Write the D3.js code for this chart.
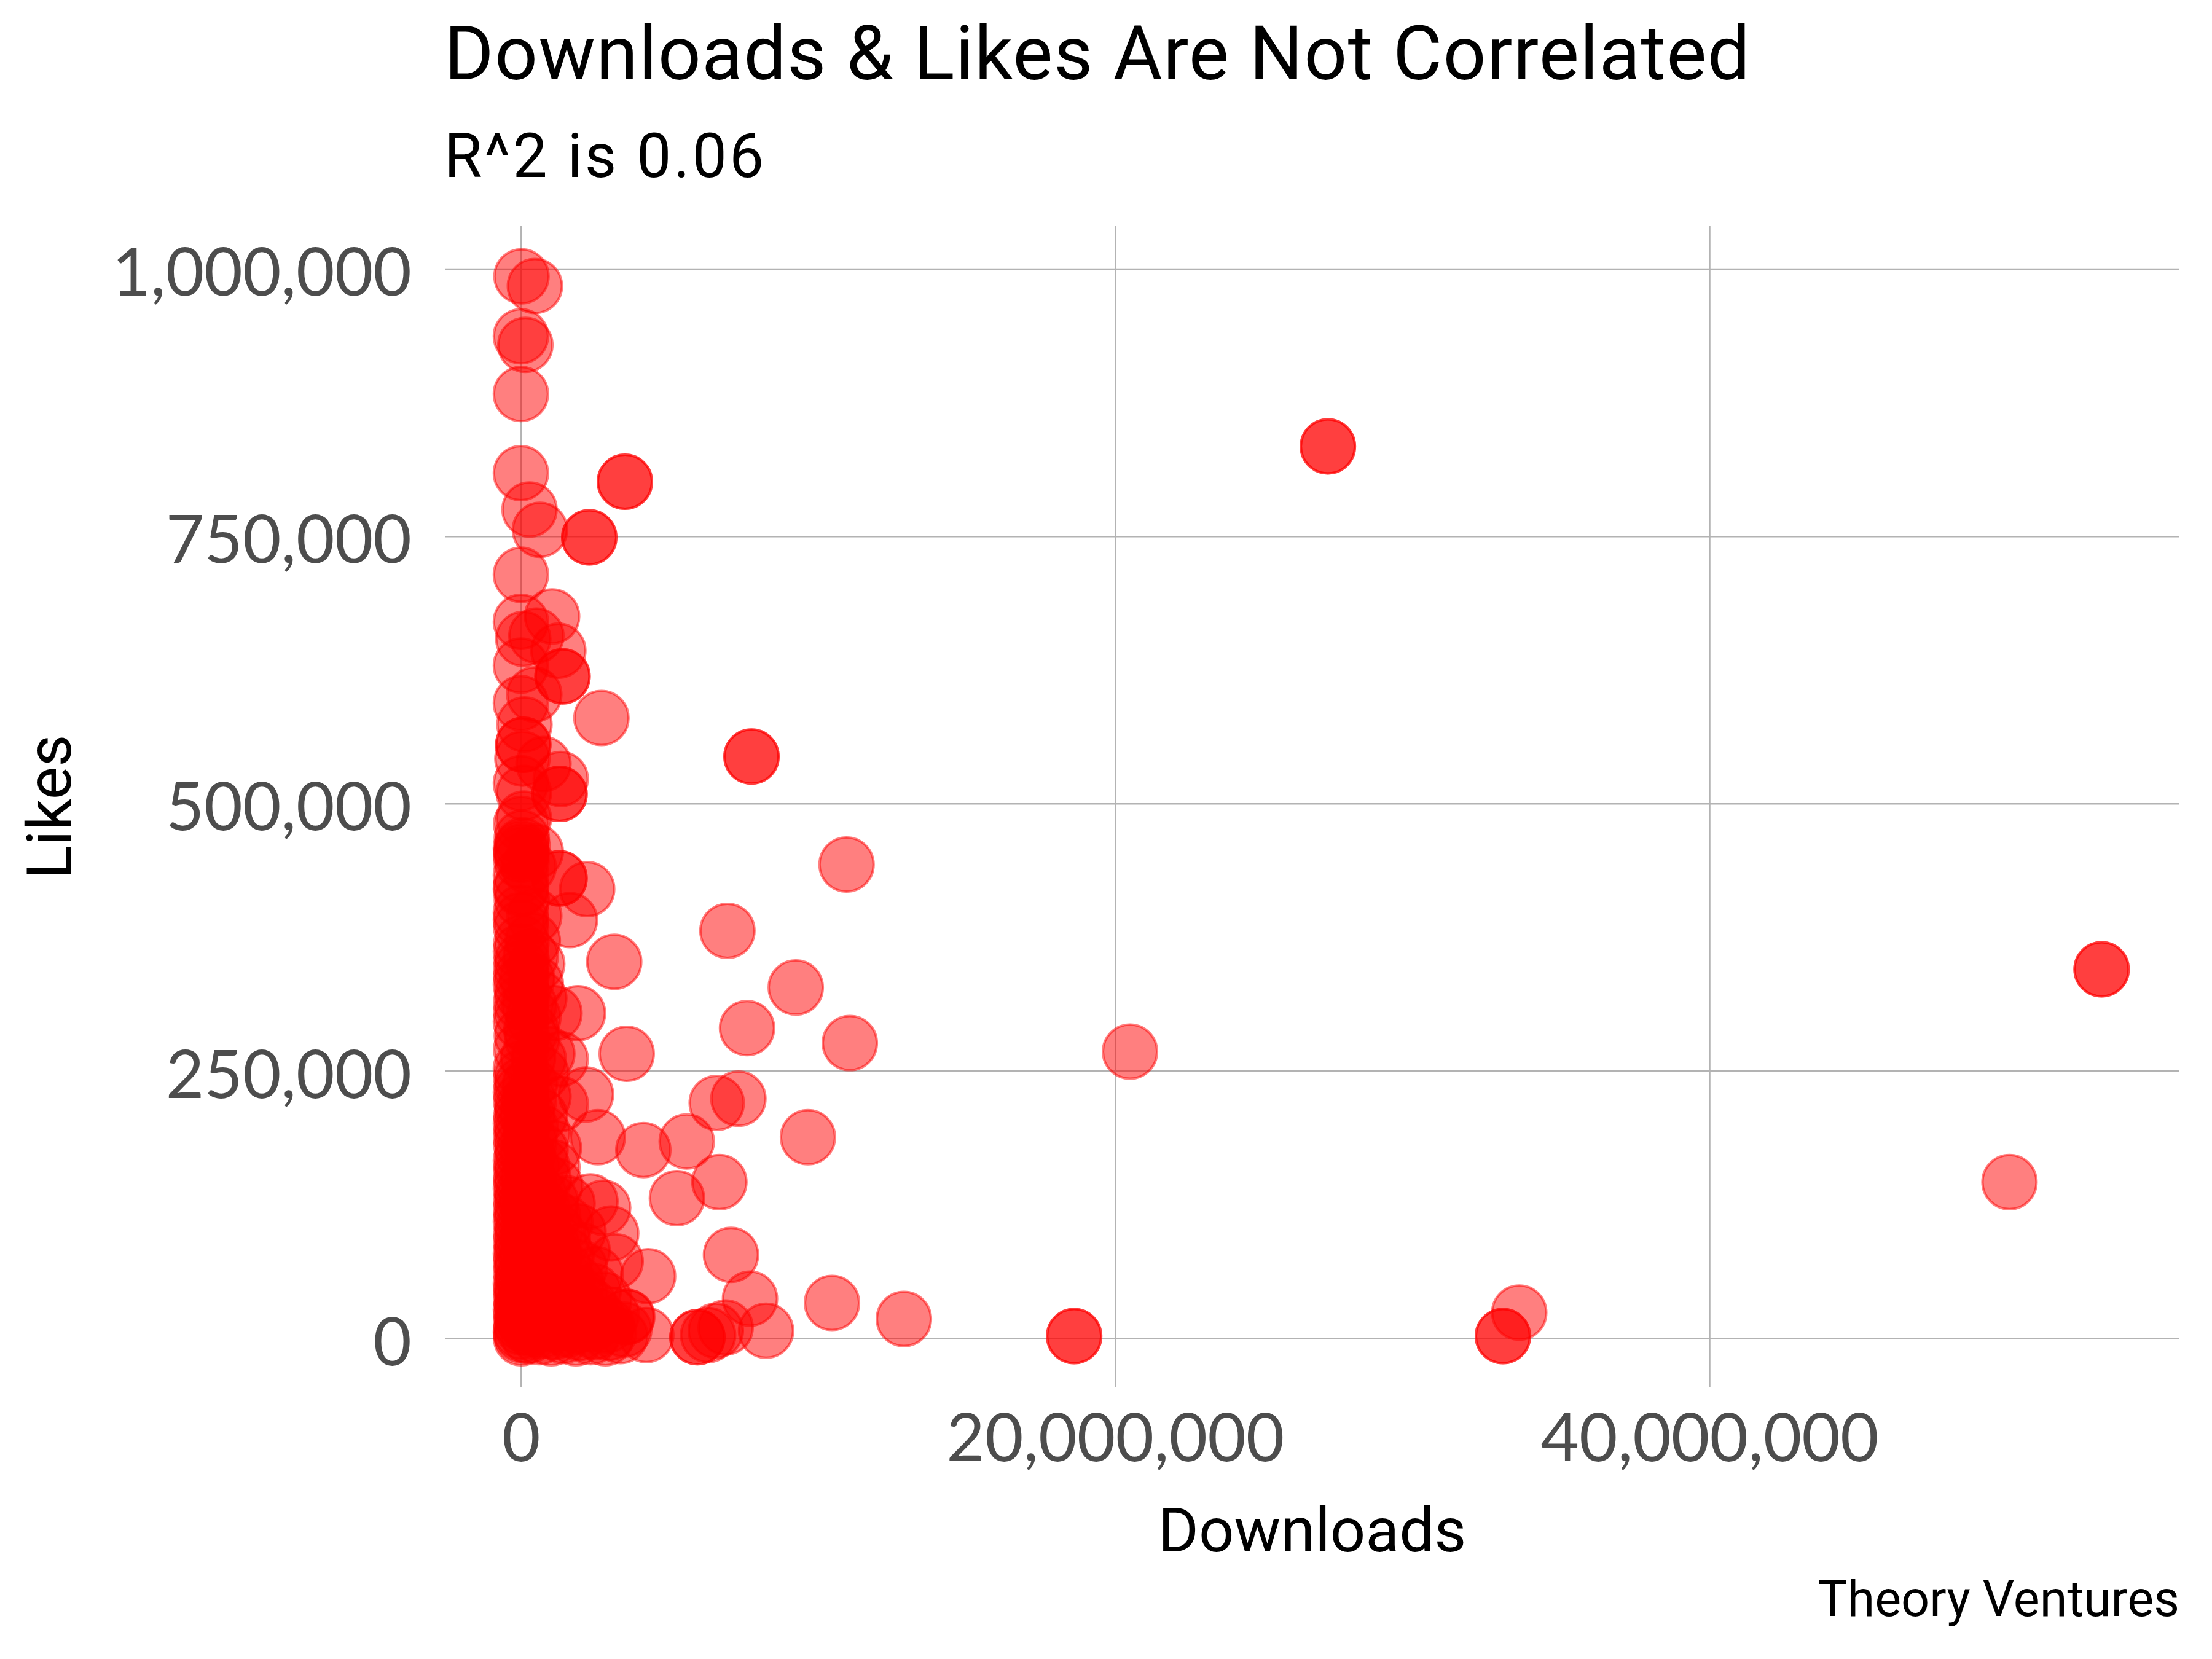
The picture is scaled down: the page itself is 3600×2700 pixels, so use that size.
<!DOCTYPE html>
<html>
<head>
<meta charset="utf-8">
<script src="https://cdn.jsdelivr.net/npm/d3@7"></script>
<style>
  body { margin: 0; background: #ffffff; }
</style>
</head>
<body>
<svg id="chart" width="3600" height="2700"></svg>
<script>
// ---- DATA (downloads in millions, likes in thousands) ----
const titleText = "Downloads & Likes Are Not Correlated";
const subtitleText = "R^2 is 0.06";
const xAxisTitle = "Downloads";
const yAxisTitle = "Likes";
const captionText = "Theory Ventures";
const xTicks = [0, 20000000, 40000000];
const yTicks = [0, 250000, 500000, 750000, 1000000];

// column of models with almost no downloads
const nearZeroColumn = [
  [0.01,0],[0.02,3],[0.00,6],[0.03,10],[0.01,14],[0.05,18],[0.02,22],[0.00,27],[0.04,31],[0.01,36],
  [0.03,41],[0.02,46],[0.00,51],[0.06,56],[0.01,62],[0.03,67],[0.02,73],[0.00,79],[0.04,85],[0.01,91],
  [0.02,97],[0.05,103],[0.00,109],[0.03,115],[0.01,121],[0.02,128],[0.04,134],[0.00,140],[0.02,147],[0.01,153],
  [0.03,160],[0.00,166],[0.05,173],[0.02,180],[0.01,187],[0.03,194],[0.00,201],[0.02,208],[0.04,215],[0.01,222],
  [0.00,230],[0.03,237],[0.02,244],[0.00,252],[0.01,270],[0.03,283],[0.00,296],[0.02,305],[0.01,314],[0.04,322],
  [0.00,331],[0.02,338],[0.01,346],[0.03,353],[0.00,362],[0.02,370],[0.01,384],[0.00,398],[0.03,410],[0.01,422],
  [0.00,433],[0.02,446],[0.01,452],[0.00,458],[0.03,468],[0.01,481]
];

// dense low-download / low-like cluster
const denseCluster = [
  [0.25,2],[0.31,9],[0.22,16],[0.36,24],[0.28,33],[0.19,42],[0.33,50],[0.26,59],[0.38,68],[0.21,77],
  [0.30,86],[0.24,96],[0.35,106],[0.27,117],[0.20,128],[0.32,139],[0.25,150],[0.37,161],[0.23,172],[0.29,184],
  [0.34,196],[0.22,209],[0.27,222],[0.31,238],[0.24,262],[0.35,288],[0.28,312],[0.21,336],[0.33,357],[0.26,441],
  [0.45,395],[0.40,372],[0.55,350],[0.42,300],[0.38,280],[0.50,455],
  [0.62,1],[0.71,7],[0.66,14],[0.78,22],[0.64,30],[0.74,39],[0.69,48],[0.80,57],[0.63,67],[0.75,77],
  [0.68,88],[0.79,99],[0.65,110],[0.72,122],[0.61,135],[0.77,148],[0.70,162],[0.66,176],[0.73,192],[0.64,208],
  [0.76,226],[0.69,247],[0.62,318],
  [1.02,0],[1.12,6],[1.05,13],[1.18,21],[1.08,29],[1.15,38],[1.00,47],[1.20,56],[1.07,66],[1.14,77],
  [1.03,89],[1.17,101],[1.09,114],[1.01,128],[1.16,143],[1.06,160],[1.11,178],
  [1.42,2],[1.55,8],[1.47,15],[1.60,23],[1.44,32],[1.52,42],[1.58,53],[1.46,65],[1.54,78],[1.41,92],
  [1.50,108],[1.57,126],
  [1.85,0],[1.97,5],[1.89,12],[2.05,20],[1.92,29],[2.01,40],[1.87,52],[1.99,66],[2.08,82],[1.94,100],
  [2.35,1],[2.48,6],[2.40,13],[2.56,21],[2.31,31],[2.45,44],[2.52,60],
  [2.85,0],[2.97,5],[2.90,12],[3.06,22],[2.81,36],
  [3.35,2],[3.48,8],[3.58,20]
];

// tall column of highly-liked models
const upperColumn = [
  [0.02,993],[0.47,984],[0.00,937],[0.15,929],[0.00,883],[0.00,809],[0.29,775],[0.64,756],
  [3.50,801],[3.50,801],[2.30,749],[2.30,749],[0.00,714],[1.05,675],[0.00,670],[0.08,654],[0.52,657],
  [1.26,643],[1.40,619],[1.40,619],[0.00,629],[0.45,602],[0.00,594],[2.71,580],[0.12,574],
  [0.08,555],[0.08,555],[0.05,542],[7.76,544],[7.76,544],[0.76,537],[1.34,523],[0.00,519],
  [0.10,510],[1.30,509],[1.30,509],[0.10,486]
];

const midScatter = [
  [0.02,455],[0.05,461],[1.30,430],[1.30,430],[2.23,420],[1.65,391],[0.00,420],[0.00,391],
  [0.50,332],[1.92,304],[1.13,304],[0.89,266],[0.60,261],[1.34,261],[3.14,352],[3.56,266],
  [6.95,381],[10.96,443],[9.25,328],[7.61,290],[11.07,276]
];

const lowScatter = [
  [2.19,228],[1.34,219],[2.59,188],[6.59,220],[7.32,224],[9.66,188],[20.5,268],[4.12,176],
  [5.58,184],[5.25,131],[6.68,146],[7.07,78],[7.71,37],[10.47,33],[12.89,18],[8.25,7],
  [6.89,10],[6.56,7],[5.94,1],[5.94,1],[6.30,3],[4.28,58],[4.22,3],[2.77,122],[2.34,128],
  [3.04,98],[3.19,72],[3.56,20]
];

const outliers = [
  [27.16,834],[27.16,834],[53.2,345],[53.2,345],[50.1,146],[33.6,24],[33.05,2],[33.05,2],
  [18.62,2],[18.62,2]
];

// ---- CHART ----
const svg = d3.select("#chart");
svg.append("rect").attr("width", 3600).attr("height", 2700).attr("fill", "#ffffff");

const panel = { left: 724, right: 3547, top: 368, bottom: 2258 };
const x = d3.scaleLinear().domain([-2.56e6, 55.82e6]).range([panel.left, panel.right]);
const y = d3.scaleLinear().domain([-46000, 1040000]).range([panel.bottom, panel.top]);

const tickFont = "Lato, 'DejaVu Sans', sans-serif";
const textFont = "Roboto, 'Liberation Sans', sans-serif";
const gridColor = "#b3b3b3";

// y axis + horizontal gridlines
const yAxis = svg.append("g")
  .attr("transform", `translate(${panel.left},0)`)
  .call(d3.axisLeft(y).tickValues(yTicks).tickFormat(d3.format(","))
        .tickSize(-(panel.right - panel.left)).tickPadding(54));
yAxis.select(".domain").remove();
yAxis.selectAll(".tick line").attr("stroke", gridColor).attr("stroke-width", 2.5);
yAxis.selectAll(".tick text")
  .attr("fill", "#4d4d4d").attr("font-family", tickFont).attr("font-size", 108).attr("dy", "0.4em");

// x axis + vertical gridlines
const xAxis = svg.append("g")
  .attr("transform", `translate(0,${panel.bottom})`)
  .call(d3.axisBottom(x).tickValues(xTicks).tickFormat(d3.format(","))
        .tickSize(-(panel.bottom - panel.top)).tickPadding(43));
xAxis.select(".domain").remove();
xAxis.selectAll(".tick line").attr("stroke", gridColor).attr("stroke-width", 2.5);
xAxis.selectAll(".tick text")
  .attr("fill", "#4d4d4d").attr("font-family", tickFont).attr("font-size", 108);

// points
const allPoints = [].concat(nearZeroColumn, denseCluster, upperColumn, midScatter, lowScatter, outliers);
svg.append("g").selectAll("circle")
  .data(allPoints)
  .join("circle")
  .attr("cx", d => x(d[0] * 1e6))
  .attr("cy", d => y(d[1] * 1e3))
  .attr("r", 44)
  .attr("fill", "#ff0000").attr("fill-opacity", 0.5)
  .attr("stroke", "#ff0000").attr("stroke-opacity", 0.5).attr("stroke-width", 4);

// titles
svg.append("text").attr("x", 723).attr("y", 129)
  .attr("font-family", textFont).attr("font-size", 123).attr("letter-spacing", 1.3).attr("fill", "#000")
  .text(titleText);
svg.append("text").attr("x", 723).attr("y", 288)
  .attr("font-family", textFont).attr("font-size", 100).attr("letter-spacing", 4).attr("fill", "#000")
  .text(subtitleText);

// axis titles
svg.append("text").attr("x", (panel.left + panel.right) / 2).attr("y", 2525)
  .attr("text-anchor", "middle")
  .attr("font-family", textFont).attr("font-size", 101).attr("fill", "#000")
  .text(xAxisTitle);
svg.append("text")
  .attr("transform", `translate(115,${(panel.top + panel.bottom) / 2}) rotate(-90)`)
  .attr("text-anchor", "middle")
  .attr("font-family", textFont).attr("font-size", 101).attr("fill", "#000")
  .text(yAxisTitle);

// caption
svg.append("text").attr("x", panel.right).attr("y", 2630)
  .attr("text-anchor", "end")
  .attr("font-family", textFont).attr("font-size", 81).attr("fill", "#000")
  .text(captionText);
</script>
</body>
</html>
